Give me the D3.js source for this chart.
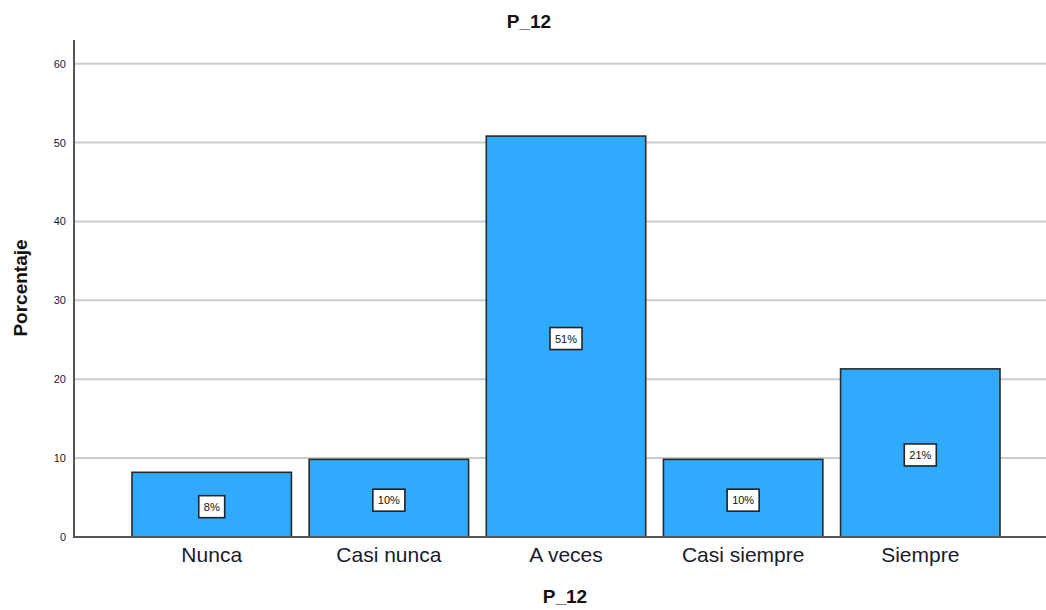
<!DOCTYPE html>
<html>
<head>
<meta charset="utf-8">
<script src="https://cdn.jsdelivr.net/npm/d3@7"></script>
<style>
  html, body { margin: 0; padding: 0; background: #fff; }
  svg { display: block; font-family: "Liberation Sans", Arial, sans-serif; }
</style>
</head>
<body>
<svg id="chart" width="1046" height="610"></svg>
<script>
const categories = ["Nunca", "Casi nunca", "A veces", "Casi siempre", "Siempre"];
const percentages = [8.20, 9.84, 50.82, 9.84, 21.31];
const barLabels = ["8%", "10%", "51%", "10%", "21%"];
const yTicks = [0, 10, 20, 30, 40, 50, 60];
const chartTitle = "P_12";
const xTitle = "P_12";
const yTitle = "Porcentaje";

const svg = d3.select("#chart");
const plot = { left: 74, right: 1046, top: 40, bottom: 537 };

const x = d3.scaleBand()
  .domain(categories)
  .range([132, 1000])
  .paddingInner(0.1)
  .paddingOuter(0);

const y = d3.scaleLinear()
  .domain([0, 63])
  .range([plot.bottom, plot.top]);

// gridlines
svg.append("g")
  .selectAll("line")
  .data(yTicks.filter(d => d > 0))
  .join("line")
  .attr("x1", plot.left)
  .attr("x2", plot.right)
  .attr("y1", d => y(d))
  .attr("y2", d => y(d))
  .attr("stroke", "#cccccc")
  .attr("stroke-width", 2);

// y tick labels via axis
const yAxis = svg.append("g")
  .attr("transform", `translate(${plot.left},0)`)
  .call(d3.axisLeft(y).tickValues(yTicks).tickSize(0).tickPadding(8));
yAxis.select(".domain").remove();
yAxis.selectAll("text")
  .attr("font-size", 11)
  .attr("font-family", "'Liberation Sans', Arial, sans-serif")
  .attr("fill", "#1a1a2e");

// bars
svg.append("g")
  .selectAll("rect")
  .data(categories)
  .join("rect")
  .attr("x", d => x(d))
  .attr("width", x.bandwidth())
  .attr("y", (d, i) => y(percentages[i]))
  .attr("height", (d, i) => y(0) - y(percentages[i]))
  .attr("fill", "#2faaff")
  .attr("stroke", "#2a2a2a")
  .attr("stroke-width", 1.6);

// axes lines
svg.append("line")
  .attr("x1", plot.left).attr("x2", plot.right)
  .attr("y1", plot.bottom).attr("y2", plot.bottom)
  .attr("stroke", "#555").attr("stroke-width", 2);
svg.append("line")
  .attr("x1", plot.left).attr("x2", plot.left)
  .attr("y1", plot.top).attr("y2", plot.bottom + 1)
  .attr("stroke", "#555").attr("stroke-width", 2);

// value labels
const lg = svg.append("g")
  .selectAll("g")
  .data(categories)
  .join("g")
  .attr("transform", (d, i) => `translate(${x(d) + x.bandwidth() / 2},${(y(0) + y(percentages[i])) / 2 + 2})`);
lg.each(function(d, i) {
  const g = d3.select(this);
  const t = g.append("text")
    .attr("text-anchor", "middle")
    .attr("dy", "0.36em")
    .attr("font-size", 11)
    .attr("fill", "#111")
    .text(barLabels[i]);
  const bw = t.node().getComputedTextLength() + 10;
  g.insert("rect", "text")
    .attr("x", -bw / 2)
    .attr("y", -11)
    .attr("width", bw)
    .attr("height", 22)
    .attr("fill", "#fff")
    .attr("stroke", "#222")
    .attr("stroke-width", 1.6);
});

// x category labels
const xAxis = svg.append("g")
  .attr("transform", `translate(0,${plot.bottom})`)
  .call(d3.axisBottom(x).tickSize(0).tickPadding(10));
xAxis.select(".domain").remove();
xAxis.selectAll("text")
  .attr("font-size", 21)
  .attr("font-family", "'Liberation Sans', Arial, sans-serif")
  .attr("fill", "#1a1a2e")
  .attr("dy", "0.71em");

// titles
svg.append("text")
  .attr("x", 529).attr("y", 28)
  .attr("text-anchor", "middle")
  .attr("font-size", 19).attr("font-weight", "bold")
  .attr("fill", "#111")
  .text(chartTitle);
svg.append("text")
  .attr("x", 565).attr("y", 603)
  .attr("text-anchor", "middle")
  .attr("font-size", 19).attr("font-weight", "bold")
  .attr("fill", "#111")
  .text(xTitle);
svg.append("text")
  .attr("transform", "translate(27,288) rotate(-90)")
  .attr("text-anchor", "middle")
  .attr("font-size", 19).attr("font-weight", "bold")
  .attr("fill", "#111")
  .text(yTitle);
</script>
</body>
</html>
